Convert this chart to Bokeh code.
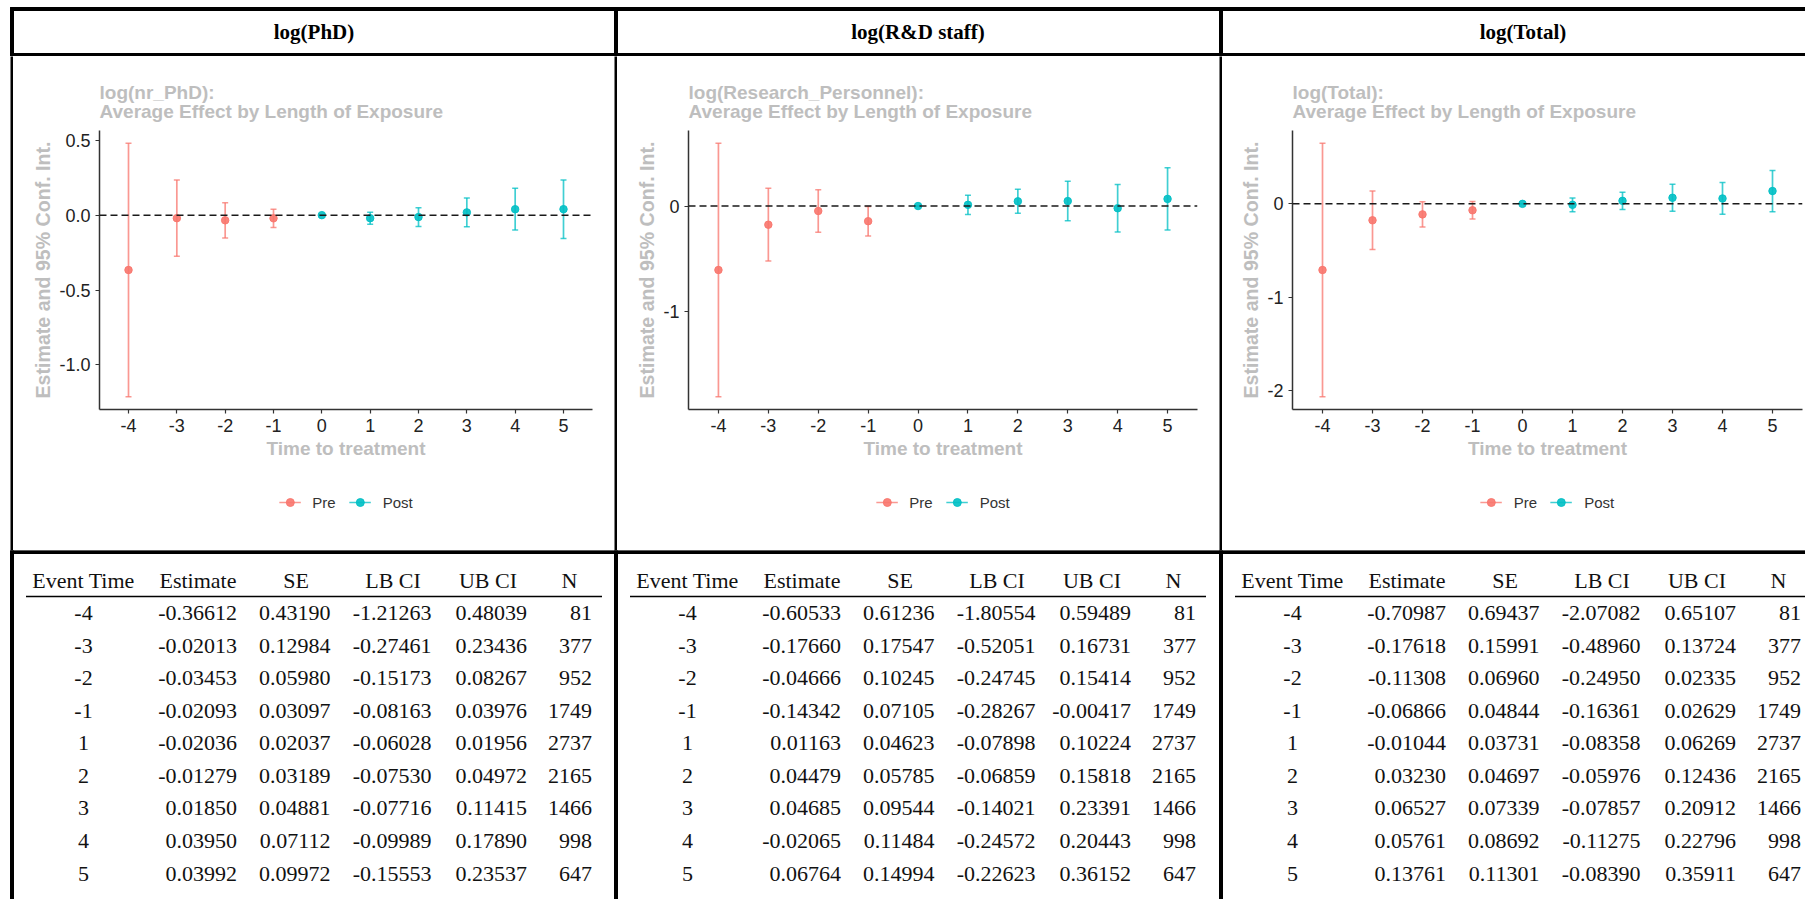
from bokeh.plotting import figure
from bokeh.layouts import column, row
from bokeh.models import (ColumnDataSource, Range1d, FixedTicker, PrintfTickFormatter,
                          Span, Legend, LegendItem, Spacer)
from bokeh.embed import file_html
from bokeh.resources import INLINE
from bokeh.core.properties import value

# ---------------- data ----------------
PANEL_TITLES = ["log(PhD)", "log(R&D staff)", "log(Total)"]
PLOT_TITLES = ["log(nr_PhD):", "log(Research_Personnel):", "log(Total):"]
SUBTITLE = "Average Effect by Length of Exposure"
X_LABEL = "Time to treatment"
Y_LABEL = "Estimate and 95% Conf. Int."
LEGEND_LABELS = ["Pre", "Post"]

EVENT_TIME = [-4, -3, -2, -1, 1, 2, 3, 4, 5]
REF_TIME = 0
N_OBS = [81, 377, 952, 1749, 2737, 2165, 1466, 998, 647]

PHD_EST = [-0.36612, -0.02013, -0.03453, -0.02093, -0.02036, -0.01279, 0.01850, 0.03950, 0.03992]
PHD_SE = [0.43190, 0.12984, 0.05980, 0.03097, 0.02037, 0.03189, 0.04881, 0.07112, 0.09972]
PHD_LB = [-1.21263, -0.27461, -0.15173, -0.08163, -0.06028, -0.07530, -0.07716, -0.09989, -0.15553]
PHD_UB = [0.48039, 0.23436, 0.08267, 0.03976, 0.01956, 0.04972, 0.11415, 0.17890, 0.23537]

RD_EST = [-0.60533, -0.17660, -0.04666, -0.14342, 0.01163, 0.04479, 0.04685, -0.02065, 0.06764]
RD_SE = [0.61236, 0.17547, 0.10245, 0.07105, 0.04623, 0.05785, 0.09544, 0.11484, 0.14994]
RD_LB = [-1.80554, -0.52051, -0.24745, -0.28267, -0.07898, -0.06859, -0.14021, -0.24572, -0.22623]
RD_UB = [0.59489, 0.16731, 0.15414, -0.00417, 0.10224, 0.15818, 0.23391, 0.20443, 0.36152]

TOT_EST = [-0.70987, -0.17618, -0.11308, -0.06866, -0.01044, 0.03230, 0.06527, 0.05761, 0.13761]
TOT_SE = [0.69437, 0.15991, 0.06960, 0.04844, 0.03731, 0.04697, 0.07339, 0.08692, 0.11301]
TOT_LB = [-2.07082, -0.48960, -0.24950, -0.16361, -0.08358, -0.05976, -0.07857, -0.11275, -0.08390]
TOT_UB = [0.65107, 0.13724, 0.02335, 0.02629, 0.06269, 0.12436, 0.20912, 0.22796, 0.35911]

X_TICKS = [-4, -3, -2, -1, 0, 1, 2, 3, 4, 5]
Y_TICKS = [[0.5, 0.0, -0.5, -1.0], [0, -1], [0, -1, -2]]
Y_FORMATS = ["%.1f", "%d", "%d"]
TABLE_HEADERS = ["Event Time", "Estimate", "SE", "LB CI", "UB CI", "N"]

PANELS = [
    (PHD_EST, PHD_SE, PHD_LB, PHD_UB),
    (RD_EST, RD_SE, RD_LB, RD_UB),
    (TOT_EST, TOT_SE, TOT_LB, TOT_UB),
]

# ---------------- styles / layout ----------------
PRE_COLOR = "#F8766D"
POST_COLOR = "#00BFC4"
GREY = "#BEBEBE"
DARK = "#222222"
W = 1805
HEADER_H = 56
ROW_H = 494
TABLE_H = 899 - HEADER_H - ROW_H
SANS = "Liberation Sans"
SERIF = "Liberation Serif"

BORDER_L = [10, 614, 1219]       # left edges of the vertical rules
BORDER_W = 3
PANEL_X0 = [b + BORDER_W / 2 for b in BORDER_L]
PANEL_W = BORDER_L[1] - BORDER_L[0]

MB_TOP, FRAME_H, MB_BOTTOM = 74, 279, 81
LEG_FIG_H = ROW_H - MB_TOP - FRAME_H - MB_BOTTOM
FIG_SPECS = [  # frame width, min_border_left, min_border_right
    (493, 86, 22),
    (509, 71, 22),
    (510, 70, 3),
]


def glyphs(p, src, color):
    seg = p.segment(x0="t", y0="l", x1="t", y1="u", source=src,
                    line_color=color, line_width=1.7, line_alpha=0.75)
    p.scatter(x="t", y="u", source=src, marker="dash", size=6,
              line_color=color, line_width=1.5, line_alpha=0.75)
    p.scatter(x="t", y="l", source=src, marker="dash", size=6,
              line_color=color, line_width=1.5, line_alpha=0.75)
    pt = p.scatter(x="t", y="e", source=src, marker="circle", size=7.5,
                   fill_color=color, line_color=color, fill_alpha=0.9, line_alpha=0.9)
    return seg, pt


def make_panel(idx):
    est, se, lb, ub = PANELS[idx]
    pts = sorted(zip(EVENT_TIME + [REF_TIME], est + [0.0], lb + [0.0], ub + [0.0]))
    t = [a[0] for a in pts]
    e = [a[1] for a in pts]
    l = [a[2] for a in pts]
    u = [a[3] for a in pts]
    lo, hi = min(l + [0.0]), max(u + [0.0])
    pad = 0.05 * (hi - lo)
    fw, mbl, mbr = FIG_SPECS[idx]
    p = figure(frame_width=fw, frame_height=FRAME_H,
               x_range=Range1d(min(t) - 0.6, max(t) + 0.6),
               y_range=Range1d(lo - pad, hi + pad),
               toolbar_location=None, output_backend="svg",
               min_border_left=mbl, min_border_right=mbr,
               min_border_top=MB_TOP, min_border_bottom=MB_BOTTOM,
               outline_line_color=None, background_fill_color="white",
               border_fill_color="white")
    p.grid.visible = False

    # legend strip below the plot: same renderers/styles, its ranges keep the marks out of view
    lf = figure(frame_width=fw, frame_height=LEG_FIG_H,
                x_range=Range1d(min(t) - 0.6, max(t) + 0.6),
                y_range=Range1d(hi + 10, hi + 11),
                toolbar_location=None, output_backend="svg",
                min_border_left=mbl, min_border_right=mbr,
                min_border_top=0, min_border_bottom=0,
                x_axis_type=None, y_axis_type=None,
                outline_line_color=None, background_fill_color="white",
                border_fill_color="white")
    lf.grid.visible = False

    items = []
    for label, color, cond in ((LEGEND_LABELS[0], PRE_COLOR, lambda v: v < REF_TIME),
                               (LEGEND_LABELS[1], POST_COLOR, lambda v: v >= REF_TIME)):
        sel = [i for i in range(len(t)) if cond(t[i])]
        src = ColumnDataSource(dict(t=[t[i] for i in sel], e=[e[i] for i in sel],
                                    l=[l[i] for i in sel], u=[u[i] for i in sel]))
        glyphs(p, src, color)
        seg, pt = glyphs(lf, src, color)
        items.append(LegendItem(label=label, renderers=[seg, pt]))

    p.add_layout(Span(location=0, dimension="width", line_color="#1a1a1a",
                      line_dash="7 4", line_width=1.5))

    for ax in (p.xaxis[0], p.yaxis[0]):
        ax.axis_line_color = "#333333"
        ax.axis_line_width = 1.5
        ax.major_tick_line_color = "#333333"
        ax.major_tick_line_width = 1.2
        ax.major_tick_out = 4
        ax.major_tick_in = 0
        ax.minor_tick_line_color = None
        ax.major_label_text_font = SANS
        ax.major_label_text_font_size = "18px"
        ax.major_label_text_color = DARK
        ax.axis_label_text_font = SANS
        ax.axis_label_text_font_style = "bold"
        ax.axis_label_text_color = GREY

    xa = p.xaxis[0]
    xa.ticker = FixedTicker(ticks=X_TICKS)
    xa.formatter = PrintfTickFormatter(format="%d")
    xa.axis_label = X_LABEL
    xa.axis_label_text_font_size = "19px"
    xa.major_label_standoff = 5
    xa.axis_label_standoff = 3

    ya = p.yaxis[0]
    ya.ticker = FixedTicker(ticks=Y_TICKS[idx])
    ya.formatter = PrintfTickFormatter(format=Y_FORMATS[idx])
    ya.axis_label = Y_LABEL
    ya.axis_label_text_font_size = "19.6px"
    ya.major_label_standoff = 5
    ya.axis_label_standoff = 2

    p.title.text = PLOT_TITLES[idx] + "\n" + SUBTITLE
    p.title.align = "left"
    p.title.text_font = SANS
    p.title.text_font_size = "19px"
    p.title.text_font_style = "bold"
    p.title.text_color = GREY
    p.title.text_line_height = 0.93
    p.title.standoff = 16

    leg = Legend(items=items, orientation="horizontal", location="top_center",
                 border_line_color=None, background_fill_alpha=0,
                 label_text_font=SANS, label_text_font_size="15px",
                 label_text_color="#333333", glyph_width=22, glyph_height=20,
                 label_standoff=12, spacing=13, padding=0, margin=2)
    lf.add_layout(leg)
    return column(p, lf)


def sep_fig():
    f = figure(width=BORDER_W, height=ROW_H, toolbar_location=None, output_backend="svg",
               min_border=0, x_axis_type=None, y_axis_type=None, outline_line_color=None,
               background_fill_color="black", border_fill_color="black")
    return f


def pixel_fig(height, y_top):
    f = figure(width=W, height=height, toolbar_location=None, output_backend="svg",
               min_border=0, x_axis_type=None, y_axis_type=None, outline_line_color=None,
               x_range=Range1d(0, W), y_range=Range1d(y_top + height, y_top),
               background_fill_color="white", border_fill_color="white")
    return f


# header row
header = pixel_fig(HEADER_H, 0)
header.quad(left=[BORDER_L[0]], right=[W], top=[7], bottom=[10], color="black")
header.quad(left=[BORDER_L[0]], right=[W], top=[53], bottom=[56], color="black")
header.quad(left=BORDER_L, right=[b + BORDER_W for b in BORDER_L], top=[7] * 3,
            bottom=[HEADER_H] * 3, color="black")
header.text(x=[x0 + PANEL_W / 2 for x0 in PANEL_X0], y=[31.5] * 3, text=PANEL_TITLES,
            text_font=value(SERIF), text_font_size=value("21px"), text_font_style="bold",
            text_align="center", text_baseline="middle", text_color="black")

# plots row
panels = [make_panel(i) for i in range(3)]
mid = row(Spacer(width=BORDER_L[0], height=ROW_H), sep_fig(), panels[0], sep_fig(),
          panels[1], sep_fig(), panels[2])

# table
TY0 = HEADER_H + ROW_H
table = pixel_fig(TABLE_H, TY0)
table.quad(left=[BORDER_L[0]], right=[W], top=[TY0], bottom=[TY0 + 3], color="black")
table.quad(left=BORDER_L, right=[b + BORDER_W for b in BORDER_L], top=[TY0] * 3,
           bottom=[899] * 3, color="black")

HEAD_C = [71.5, 186, 284, 381, 476, 557.5]
VAL_R = [None, 225, 318.5, 419.5, 515, 580]
HEAD_Y = 580
LINE_Y = 596
ROW_Y0 = 612.7
ROW_DY = 32.54

for k, x0 in enumerate(PANEL_X0):
    est, se, lb, ub = PANELS[k]
    table.segment(x0=[x0 + 14], y0=[LINE_Y], x1=[x0 + 590], y1=[LINE_Y],
                  line_color="black", line_width=1.3)
    table.text(x=[x0 + c for c in HEAD_C], y=[HEAD_Y] * 6, text=TABLE_HEADERS,
               text_font=value(SERIF), text_font_size=value("22px"),
               text_align="center", text_baseline="middle", text_color="#111111")
    ys = [ROW_Y0 + ROW_DY * i for i in range(len(EVENT_TIME))]
    table.text(x=[x0 + HEAD_C[0]] * len(EVENT_TIME), y=ys, text=[str(v) for v in EVENT_TIME],
               text_font=value(SERIF), text_font_size=value("22px"),
               text_align="center", text_baseline="middle", text_color="#111111")
    cols = [[f"{v:.5f}" for v in est], [f"{v:.5f}" for v in se],
            [f"{v:.5f}" for v in lb], [f"{v:.5f}" for v in ub], [str(v) for v in N_OBS]]
    for j, vals in enumerate(cols):
        table.text(x=[x0 + VAL_R[j + 1]] * len(vals), y=ys, text=vals,
                   text_font=value(SERIF), text_font_size=value("22px"),
                   text_align="right", text_baseline="middle", text_color="#111111")

layout = column(header, mid, table)
open("out.html", "w").write(file_html(layout, INLINE))
